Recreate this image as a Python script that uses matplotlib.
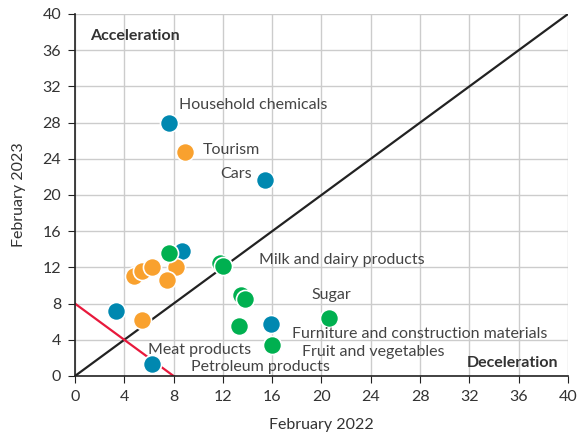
import matplotlib
matplotlib.use("Agg")
import matplotlib.pyplot as plt

plt.rcParams['font.family'] = ['Lato', 'DejaVu Sans']

blue_x = [7.6, 15.4, 8.7, 3.3, 6.25, 15.9]
blue_y = [28.0, 21.7, 13.8, 7.2, 1.3, 5.8]
orange_x = [8.9, 4.8, 5.4, 6.25, 8.2, 7.5, 5.4]
orange_y = [24.7, 11.0, 11.6, 12.0, 12.0, 10.6, 6.2]
green_x = [7.6, 11.8, 12.0, 13.5, 13.8, 13.3, 16.0, 20.6]
green_y = [13.6, 12.5, 12.2, 9.0, 8.5, 5.5, 3.4, 6.4]

labels = ["Household chemicals", "Tourism", "Cars", "Milk and dairy products", "Sugar",
          "Furniture and construction materials", "Fruit and vegetables",
          "Meat products", "Petroleum products"]
label_x = [8.4, 10.4, 11.8, 14.9, 19.2, 17.6, 18.4, 5.9, 9.4]
label_y = [29.9, 25.0, 22.3, 12.8, 9.0, 4.6, 2.6, 2.9, 1.0]

ticks = list(range(0, 41, 4))

fig = plt.figure(figsize=(5.83, 4.37), dpi=100)
ax = fig.add_axes([0.1286, 0.1396, 0.8457, 0.8284])
ax.set_xlim(0, 40)
ax.set_ylim(0, 40)
ax.set_xticks(ticks)
ax.set_yticks(ticks)
ax.grid(True, color='#cccccc', linewidth=1)
ax.set_axisbelow(True)
for s in ['top', 'right']:
    ax.spines[s].set_visible(False)
for s in ['left', 'bottom']:
    ax.spines[s].set_color('#222222')
    ax.spines[s].set_linewidth(1.2)
ax.tick_params(colors='#333333', labelsize=11.5, length=5, color='#222222', pad=5)

ax.plot([0, 40], [0, 40], color='#222222', lw=1.6, zorder=2)
ax.plot([0, 8], [8, 0], color='#e8193c', lw=1.6, zorder=2)

kw = dict(s=170, edgecolors='white', linewidths=1.2, zorder=3)
ax.scatter(blue_x, blue_y, color='#0088b0', **kw)
ax.scatter(orange_x, orange_y, color='#f9a12e', **kw)
ax.scatter(green_x, green_y, color='#00b050', **kw)

for t, x, y in zip(labels, label_x, label_y):
    ax.text(x, y, t, fontsize=11.5, color='#444444', ha='left', va='center', zorder=4)

ax.text(1.2, 37.6, "Acceleration", fontsize=11.5, fontweight='bold', color='#333333', va='center')
ax.text(39.2, 1.4, "Deceleration", fontsize=11.5, fontweight='bold', color='#333333', va='center', ha='right')

ax.set_xlabel("February 2022", fontsize=11.5, color='#333333', labelpad=10)
ax.set_ylabel("February 2023", fontsize=11.5, color='#333333', labelpad=12)

fig.savefig("out.png", dpi=100)
